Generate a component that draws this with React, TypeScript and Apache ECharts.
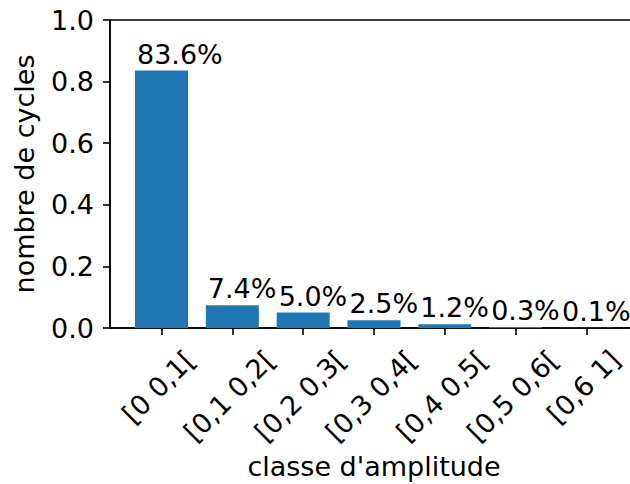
import React, { useEffect, useRef } from "react";
import * as echarts from "echarts";

const categories = ["[0 0,1[", "[0,1 0,2[", "[0,2 0,3[", "[0,3 0,4[", "[0,4 0,5[", "[0,5 0,6[", "[0,6 1]"];
const percents = [83.6, 7.4, 5.0, 2.5, 1.2, 0.3, 0.1];
const yTicks = [0, 0.2, 0.4, 0.6, 0.8, 1.0];

const FONT = "DejaVu Sans";
const FS = 27;
const W = 630;
const H = 484;
const GRID_LEFT = 110;
const GRID_RIGHT = -8;
const X_MIN = -0.727;
const X_MAX = 6.727;

export default function App() {
  const ref = useRef<HTMLDivElement>(null);
  useEffect(() => {
    if (!ref.current) return;
    const chart = echarts.init(ref.current, null, { renderer: "svg" });
    const canvas = document.createElement("canvas");
    const ctx = canvas.getContext("2d")!;
    ctx.font = `${FS}px ${FONT}`;
    const plotW = W - GRID_LEFT - GRID_RIGHT;
    const pxPerUnit = plotW / (X_MAX - X_MIN);
    const labelPos = categories.map((c, i) => {
      const w = ctx.measureText(c).width;
      return i + (w / (2 * Math.SQRT2) - 3) / pxPerUnit;
    });
    const labelFor = (v: number) => {
      let best = 0;
      let bd = Infinity;
      labelPos.forEach((p, i) => {
        const d = Math.abs(p - v);
        if (d < bd) {
          bd = d;
          best = i;
        }
      });
      return categories[best];
    };
    const idx = categories.map((_, i) => i);
    chart.setOption({
      animation: false,
      grid: {
        left: GRID_LEFT,
        right: GRID_RIGHT,
        top: 20,
        bottom: 156,
        show: true,
        borderColor: "#000",
        borderWidth: 1.6,
        backgroundColor: "transparent",
        outerBoundsMode: "none",
        containLabel: false,
      },
      xAxis: {
        type: "value",
        min: X_MIN,
        max: X_MAX,
        name: "classe d'amplitude",
        nameLocation: "middle",
        nameGap: 125,
        nameTextStyle: { fontFamily: FONT, fontSize: FS, color: "#000" },
        axisLine: { show: true, onZero: false, lineStyle: { color: "#000", width: 1.6 } },
        axisTick: { show: true, length: 7, lineStyle: { color: "#000", width: 1.6 }, customValues: idx },
        splitLine: { show: false },
        axisLabel: {
          customValues: labelPos,
          rotate: 45,
          margin: 27,
          hideOverlap: false,
          fontFamily: FONT,
          fontSize: FS,
          color: "#000",
          formatter: (v: number) => labelFor(v),
        },
      },
      yAxis: {
        type: "value",
        min: 0,
        max: 1,
        interval: 0.2,
        name: "nombre de cycles",
        nameLocation: "middle",
        nameGap: 72,
        nameTextStyle: { fontFamily: FONT, fontSize: FS, color: "#000" },
        axisLine: { show: true, onZero: false, lineStyle: { color: "#000", width: 1.6 } },
        axisTick: { show: true, length: 7, lineStyle: { color: "#000", width: 1.6 } },
        splitLine: { show: false },
        axisLabel: {
          margin: 16,
          fontFamily: FONT,
          fontSize: FS,
          color: "#000",
          formatter: (v: number) => (yTicks.includes(Math.round(v * 10) / 10) ? v.toFixed(1) : ""),
        },
      },
      series: [
        {
          type: "bar",
          barWidth: 53,
          itemStyle: { color: "#1f77b4" },
          data: percents.map((p, i) => [i, p / 100]),
          label: {
            show: true,
            position: [2, -3],
            align: "left",
            verticalAlign: "bottom",
            fontFamily: FONT,
            fontSize: FS,
            color: "#000",
            formatter: (p: any) => `${percents[p.dataIndex].toFixed(1)}%`,
          },
        },
      ],
    });
    return () => chart.dispose();
  }, []);
  return <div ref={ref} style={{ position: "fixed", left: 0, top: 0, width: W, height: H, background: "#fff" }} />;
}
